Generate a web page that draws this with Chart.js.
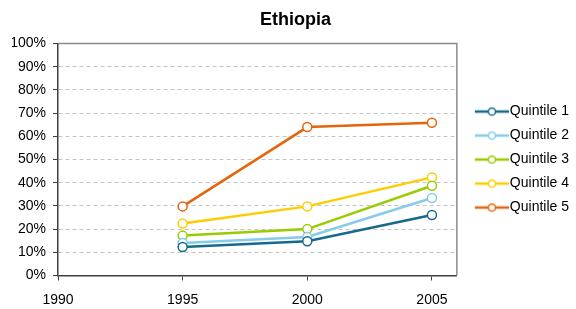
<!DOCTYPE html>
<html lang="en">
<head>
    <meta charset="UTF-8">
    <title>Ethiopia</title>
    <script src="https://cdn.jsdelivr.net/npm/chart.js"></script>
    <style>
        body { margin: 0; background: #fff; }
        #wrap { width: 576px; height: 309px; }
    </style>
</head>
<body>
    <div id="wrap"><canvas id="myChart"></canvas></div>
    <script>
        // survey years and quintile shares (fractions)
        const years = [1995, 2000, 2005];
        const xTickValues = [1990, 1995, 2000, 2005];
        const seriesNames = ['Quintile 1', 'Quintile 2', 'Quintile 3', 'Quintile 4', 'Quintile 5'];
        const quintile1 = [0.123, 0.148, 0.261];
        const quintile2 = [0.140, 0.166, 0.334];
        const quintile3 = [0.172, 0.200, 0.387];
        const quintile4 = [0.224, 0.298, 0.423];
        const quintile5 = [0.298, 0.640, 0.659];
        const seriesColors = ['#17698c', '#86cbe8', '#99cc00', '#ffcc00', '#e3650f'];

        const allValues = [quintile1, quintile2, quintile3, quintile4, quintile5];
        const font = "'Liberation Sans', Arial, sans-serif";

        // small line + circle swatch for the legend
        function makeSwatch(color) {
            const c = document.createElement('canvas');
            c.width = 48; c.height = 12;
            const g = c.getContext('2d');
            g.strokeStyle = color;
            g.lineWidth = 2.5;
            g.beginPath(); g.moveTo(14, 6); g.lineTo(48, 6); g.stroke();
            g.fillStyle = '#fff';
            g.lineWidth = 1.5;
            g.beginPath(); g.arc(31, 6, 3.6, 0, Math.PI * 2); g.fill(); g.stroke();
            return c;
        }
        const swatches = seriesColors.map(makeSwatch);

        // top and right edges of the plot box
        const frame = {
            id: 'frame',
            beforeDatasetsDraw(chart) {
                const { ctx, chartArea: a } = chart;
                ctx.save();
                ctx.strokeStyle = '#8a8a8a';
                ctx.lineWidth = 1.5;
                ctx.beginPath();
                ctx.moveTo(a.left, a.top);
                ctx.lineTo(a.right, a.top);
                ctx.lineTo(a.right, a.bottom);
                ctx.stroke();
                ctx.restore();
            }
        };

        const datasets = seriesNames.map((name, i) => ({
            label: name,
            data: years.map((yr, j) => ({ x: yr, y: allValues[i][j] })),
            borderColor: seriesColors[i],
            backgroundColor: seriesColors[i],
            borderWidth: 2.5,
            pointStyle: 'circle',
            pointRadius: 4.5,
            pointBorderWidth: 1.5,
            pointBackgroundColor: '#fff',
            pointBorderColor: seriesColors[i],
            tension: 0,
            clip: false
        }));

        new Chart(document.getElementById('myChart'), {
            type: 'line',
            data: { datasets: datasets },
            plugins: [frame],
            options: {
                responsive: true,
                maintainAspectRatio: false,
                animation: false,
                layout: { padding: { left: 12, right: -3, top: 0, bottom: 3 } },
                plugins: {
                    title: {
                        display: true,
                        text: 'Ethiopia',
                        color: '#000',
                        font: { family: font, size: 18, weight: 'bold' },
                        padding: { top: 9, bottom: 13 }
                    },
                    legend: {
                        position: 'right',
                        fullSize: false,
                        labels: {
                            usePointStyle: true,
                            pointStyleWidth: 36,
                            padding: 10,
                            color: '#000',
                            font: { family: font, size: 14 },
                            generateLabels(chart) {
                                const items = Chart.defaults.plugins.legend.labels.generateLabels(chart);
                                items.forEach((it, i) => { it.pointStyle = swatches[i]; });
                                return items;
                            }
                        }
                    },
                    tooltip: { enabled: false }
                },
                scales: {
                    x: {
                        type: 'linear',
                        min: 1990,
                        max: 2006,
                        afterBuildTicks(scale) {
                            scale.ticks = xTickValues.map(v => ({ value: v }));
                        },
                        afterFit(scale) { scale.height = 30.5; },
                        ticks: {
                            padding: 11,
                            color: '#000',
                            font: { family: font, size: 14 },
                            maxRotation: 0,
                            autoSkip: false,
                            callback: v => String(v)
                        },
                        grid: {
                            drawOnChartArea: false,
                            drawTicks: true,
                            tickLength: 5,
                            tickColor: '#404040'
                        },
                        border: { color: '#404040', width: 1.5 }
                    },
                    y: {
                        min: 0,
                        max: 1,
                        afterFit(scale) { scale.width = 46; },
                        ticks: {
                            stepSize: 0.1,
                            padding: 7,
                            color: '#000',
                            font: { family: font, size: 14 },
                            callback: v => Math.round(v * 100) + '%'
                        },
                        grid: {
                            color: ctx => (ctx.tick && (ctx.tick.value === 0 || Math.abs(ctx.tick.value - 1) < 1e-9)) ? 'rgba(0,0,0,0)' : '#c4c4c4',
                            lineWidth: 1,
                            drawTicks: true,
                            tickLength: 5,
                            tickColor: '#404040'
                        },
                        border: { color: '#404040', width: 1.5, dash: [4, 3] }
                    }
                }
            }
        });
    </script>
</body>
</html>
